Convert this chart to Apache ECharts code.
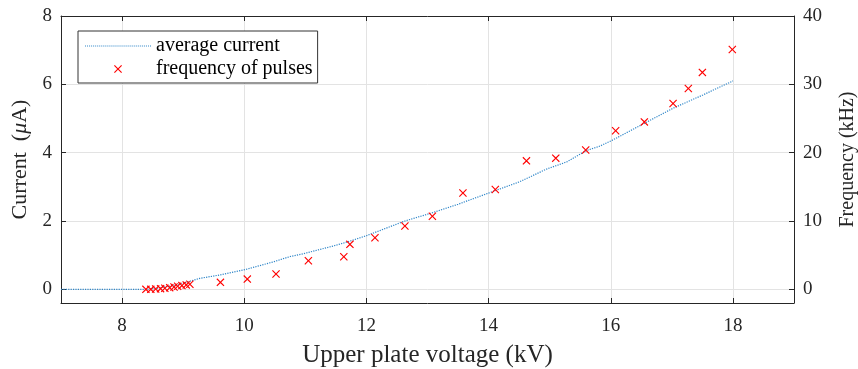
<!DOCTYPE html>
<html>
<head>
<meta charset="utf-8">
<script src="https://cdn.jsdelivr.net/npm/echarts@6/dist/echarts.min.js"></script>
<style>
  html, body { margin: 0; padding: 0; background: #ffffff; }
  #chart { width: 858px; height: 369px; }
</style>
</head>
<body>
<div id="chart"></div>
<script>
// Average discharge current versus upper plate voltage (left axis, µA)
const currentVoltage = [7, 8.0, 8.4, 8.6, 8.8, 9.0, 9.27, 9.6, 10.04, 10.47, 10.75, 10.94, 11.2, 11.46, 11.73, 12.0, 12.22, 12.63, 13.04, 13.5, 14.02, 14.51, 14.95, 15.28, 15.6, 15.82, 16.01, 16.53, 17.02, 17.51, 18.0];
const currentValues  = [0, 0, 0, 0.04, 0.1, 0.18, 0.32, 0.42, 0.59, 0.80, 0.96, 1.03, 1.15, 1.27, 1.41, 1.57, 1.72, 2.0, 2.22, 2.49, 2.83, 3.15, 3.52, 3.73, 4.06, 4.19, 4.35, 4.84, 5.30, 5.69, 6.10];

// Pulse frequency versus upper plate voltage (right axis, kHz)
const pulseVoltage = [8.39, 8.47, 8.55, 8.63, 8.70, 8.78, 8.85, 8.91, 8.98, 9.05, 9.11, 9.61, 10.05, 10.52, 11.05, 11.63, 11.73, 12.14, 12.63, 13.08, 13.58, 14.11, 14.62, 15.10, 15.59, 16.08, 16.55, 17.02, 17.27, 17.50, 17.99];
const pulseFreq    = [0, 0, 0.05, 0.1, 0.15, 0.25, 0.35, 0.45, 0.55, 0.65, 0.75, 1.02, 1.5, 2.24, 4.19, 4.77, 6.58, 7.55, 9.26, 10.7, 14.1, 14.6, 18.8, 19.2, 20.4, 23.2, 24.5, 27.2, 29.4, 31.75, 35.1];

// Tick positions
const xTicks = [8, 10, 12, 14, 16, 18];
const yLeftTicks = [0, 2, 4, 6, 8];
const yRightTicks = [0, 10, 20, 30, 40];

const FONT = '"Liberation Serif", "Times New Roman", serif';
const AXIS_COLOR = '#262626';
const GRID_COLOR = '#e3e3e3';
const LINE_COLOR = '#2f86c8';
const CROSS = 'path://M0,1 L1,0 L5,4 L9,0 L10,1 L6,5 L10,9 L9,10 L5,6 L1,10 L0,9 L4,5 Z';

// Dotted stroke used as the legend swatch of the current trace
let dots = '';
for (let k = 0; k < 33; k++) dots += 'M' + (2 * k) + ',0h1v1h-1z';
const DOTTED = 'path://' + dots;

const chart = echarts.init(document.getElementById('chart'), null, { renderer: 'canvas' });

const axisLineStyle = { show: true, onZero: false, lineStyle: { color: AXIS_COLOR, width: 1 } };
const tickLabel = { fontFamily: FONT, fontSize: 19, color: AXIS_COLOR };

chart.setOption({
  animation: false,
  backgroundColor: '#ffffff',
  grid: { left: 61, right: 64, top: 16, bottom: 66, outerBoundsMode: 'none', containLabel: false },
  legend: {
    orient: 'vertical',
    left: 78, top: 31,
    padding: [5, 5, 4, 7],
    itemGap: 3,
    itemWidth: 66,
    itemHeight: 8,
    backgroundColor: '#ffffff',
    borderColor: '#333333',
    borderWidth: 1,
    borderRadius: 0,
    selectedMode: false,
    textStyle: { fontFamily: FONT, fontSize: 20, color: '#000000' },
    data: [
      { name: 'average current', icon: DOTTED, itemStyle: { color: LINE_COLOR } },
      { name: 'frequency of pulses', icon: CROSS, itemStyle: { color: '#ff0000' } }
    ]
  },
  xAxis: [
    {
      type: 'value', position: 'bottom', min: 7, max: 19,
      axisLine: axisLineStyle,
      axisTick: { show: true, inside: true, length: 5, customValues: xTicks, lineStyle: { color: AXIS_COLOR } },
      axisLabel: { show: true, customValues: xTicks, margin: 14, ...tickLabel },
      splitLine: { show: true, lineStyle: { color: GRID_COLOR, width: 1 } },
      name: 'Upper plate voltage (kV)',
      nameLocation: 'middle', nameGap: 40,
      nameTextStyle: { fontFamily: FONT, fontSize: 25, color: AXIS_COLOR }
    },
    {
      type: 'value', position: 'top', min: 7, max: 19,
      axisLine: axisLineStyle,
      axisTick: { show: true, inside: true, length: 5, customValues: xTicks, lineStyle: { color: AXIS_COLOR } },
      axisLabel: { show: false },
      splitLine: { show: false }
    }
  ],
  yAxis: [
    {
      type: 'value', position: 'left', min: -0.4, max: 8,
      axisLine: axisLineStyle,
      axisTick: { show: true, inside: true, length: 5, customValues: yLeftTicks, lineStyle: { color: AXIS_COLOR } },
      axisLabel: { show: true, customValues: yLeftTicks, margin: 9, ...tickLabel },
      splitLine: { show: true, lineStyle: { color: GRID_COLOR, width: 1 } },
      name: '{a|Current  (}{i|μ}{a|A)}',
      nameLocation: 'middle', nameGap: 28, nameRotate: 90,
      nameTextStyle: {
        fontFamily: FONT, fontSize: 22, color: AXIS_COLOR,
        rich: {
          a: { fontFamily: FONT, fontSize: 22, color: AXIS_COLOR },
          i: { fontFamily: FONT, fontSize: 22, color: AXIS_COLOR, fontStyle: 'italic' }
        }
      }
    },
    {
      type: 'value', position: 'right', min: -2, max: 40,
      axisLine: axisLineStyle,
      axisTick: { show: true, inside: true, length: 5, customValues: yRightTicks, lineStyle: { color: AXIS_COLOR } },
      axisLabel: { show: true, customValues: yRightTicks, margin: 9, ...tickLabel },
      splitLine: { show: false },
      name: 'Frequency (kHz)',
      nameLocation: 'middle', nameGap: 44, nameRotate: 90,
      nameTextStyle: { fontFamily: FONT, fontSize: 20, color: AXIS_COLOR }
    }
  ],
  series: [
    {
      name: 'average current',
      type: 'line',
      xAxisIndex: 0, yAxisIndex: 0,
      symbol: 'none',
      data: currentVoltage.map((v, i) => [v, currentValues[i]]),
      lineStyle: { color: LINE_COLOR, width: 1.2, type: [1.2, 1.2] },
      itemStyle: { color: LINE_COLOR },
      z: 3
    },
    {
      name: 'frequency of pulses',
      type: 'scatter',
      xAxisIndex: 0, yAxisIndex: 1,
      symbol: CROSS,
      symbolSize: 8,
      data: pulseVoltage.map((v, i) => [v, pulseFreq[i]]),
      itemStyle: { color: '#ff0000', opacity: 1 },
      z: 4
    }
  ]
});
</script>
</body>
</html>
